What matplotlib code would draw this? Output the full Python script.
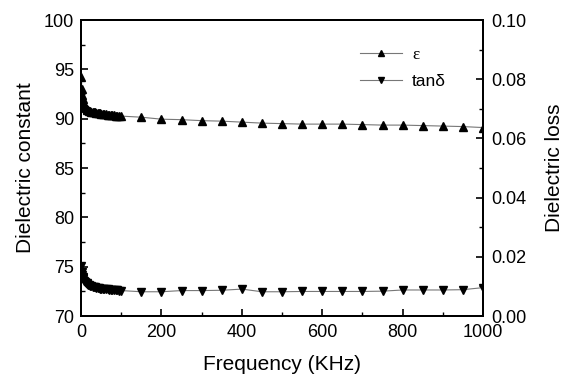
import matplotlib
matplotlib.use("Agg")
import matplotlib.pyplot as plt
from matplotlib.ticker import MultipleLocator

plt.rcParams['font.family'] = ['Liberation Sans', 'DejaVu Sans']

# frequency (KHz)
freq = [1, 2, 3, 4, 5, 6, 8, 10, 12, 14, 16, 18, 20, 23, 26, 29, 32, 35, 38,
        41, 44, 47, 50, 54, 58, 62, 66, 70, 74, 78, 82, 86, 90, 95, 100,
        150, 200, 250, 300, 350, 400, 450, 500, 550, 600, 650, 700, 750,
        800, 850, 900, 950, 1000]

# dielectric constant
eps = [94.2, 93.0, 92.4, 92.0, 91.7, 91.5, 91.3, 91.15, 91.05, 90.98, 90.92,
       90.87, 90.82, 90.77, 90.72, 90.69, 90.66, 90.63, 90.6, 90.58, 90.56,
       90.53, 90.5, 90.48, 90.46, 90.44, 90.42, 90.4, 90.38, 90.36, 90.34,
       90.32, 90.3, 90.28, 90.26,
       90.15, 89.95, 89.9, 89.8, 89.75, 89.65, 89.55, 89.5, 89.45, 89.45,
       89.45, 89.4, 89.35, 89.35, 89.3, 89.25, 89.2, 89.1]

# dielectric loss
tan = [0.0168, 0.0150, 0.0140, 0.0133, 0.0128, 0.0124, 0.0119, 0.0115,
       0.0112, 0.0110, 0.0108, 0.0106, 0.0104, 0.0102, 0.0100, 0.0099,
       0.0098, 0.0097, 0.0096, 0.0095, 0.0094, 0.0093, 0.0092, 0.0092,
       0.0091, 0.0090, 0.0090, 0.0089, 0.0089, 0.0088, 0.0088, 0.0087,
       0.0087, 0.0086, 0.0086,
       0.0082, 0.0082, 0.0086, 0.0086, 0.0087, 0.0091, 0.0082, 0.0082,
       0.0083, 0.0083, 0.0083, 0.0083, 0.0084, 0.0088, 0.0088, 0.0088,
       0.0089, 0.0096]

fig = plt.figure(figsize=(5.65, 3.74), dpi=100)
ax = fig.add_axes([0.1434, 0.155, 0.7116, 0.7915])
ax2 = ax.twinx()

l1, = ax.plot(freq, eps, color='#777777', lw=0.8, marker='^', ms=5.5,
              mfc='black', mec='black', label='ε')
l2, = ax2.plot(freq, tan, color='#777777', lw=0.8, marker='v', ms=5.5,
               mfc='black', mec='black', label='tanδ')

ax.set_xlim(0, 1000)
ax.set_ylim(70, 100)
ax2.set_ylim(0, 0.10)

ax.xaxis.set_major_locator(MultipleLocator(200))
ax.xaxis.set_minor_locator(MultipleLocator(100))
ax.yaxis.set_major_locator(MultipleLocator(5))
ax.yaxis.set_minor_locator(MultipleLocator(2.5))
ax2.yaxis.set_major_locator(MultipleLocator(0.02))
ax2.yaxis.set_minor_locator(MultipleLocator(0.01))
ax2.yaxis.set_major_formatter(plt.FormatStrFormatter('%.2f'))

for a in (ax, ax2):
    a.tick_params(which='major', direction='in', length=5, width=1.2,
                  labelsize=13, pad=5)
    a.tick_params(which='minor', direction='in', length=3, width=1.0)
    for s in a.spines.values():
        s.set_linewidth(1.4)
ax.tick_params(axis='x', top=False, which='both', pad=6)
ax.tick_params(axis='y', right=False, which='both')
ax2.tick_params(axis='y', pad=6)

ax.set_xlabel('Frequency (KHz)', fontsize=15, labelpad=10)
ax.set_ylabel('Dielectric constant', fontsize=15, labelpad=6)
ax2.set_ylabel('Dielectric loss', fontsize=15, labelpad=13)

leg = ax.legend(handles=[l1, l2], loc='upper left',
                bbox_to_anchor=(0.637, 0.875),
                bbox_transform=fig.transFigure, frameon=False, fontsize=12.5,
                handlelength=2.4, handletextpad=0.6, labelspacing=0.65,
                borderpad=0, borderaxespad=0, markerscale=0.8)
leg.get_texts()[0].set_family(['Liberation Serif', 'DejaVu Serif'])

fig.savefig('out.png', dpi=100)
